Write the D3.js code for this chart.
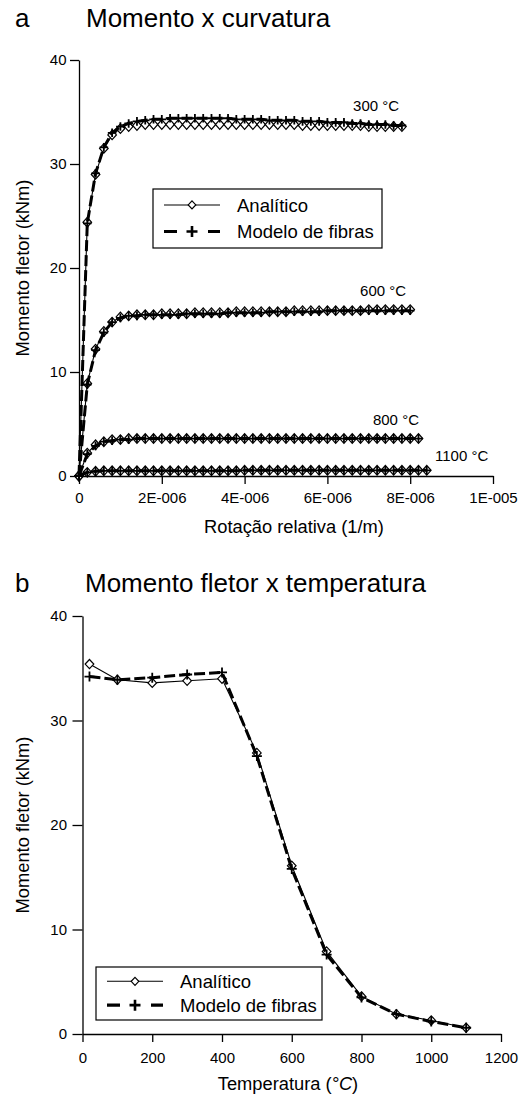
<!DOCTYPE html>
<html><head><meta charset="utf-8">
<script src="https://cdn.jsdelivr.net/npm/d3@7"></script>
<style>
body{margin:0;background:#fff}
svg{display:block}
text{font-family:"Liberation Sans",Arial,Helvetica,sans-serif;fill:#000}
</style>
</head><body>
<svg id="c" width="527" height="1095"></svg>
<script>
// ---------- Chart a: Momento x curvatura (rotation in units of 1E-6 1/m) ----------
const rotation = [0,0.2,0.4,0.6,0.8,1.0,1.2,1.4,1.6,1.8,2.0,2.2,2.4,2.6,2.8,3.0,3.2,3.4,3.6,3.8,4.0,4.2,4.4,4.6,4.8,5.0,5.2,5.4,5.6,5.8,6.0,6.2,6.4,6.6,6.8,7.0,7.2,7.4,7.6,7.8,8.0,8.2,8.4];

const m300Analitico = [0,24.4,29.0,31.5,32.8,33.4,33.6,33.7,33.8,33.8,
  33.8,33.8,33.8,33.8,33.8,33.8,33.8,33.8,33.8,33.8,
  33.8,33.8,33.8,33.8,33.8,33.8,33.8,33.7,33.7,33.7,
  33.7,33.7,33.7,33.7,33.7,33.6,33.6,33.6,33.6,33.6];
const m300Fibras = [0,24.3,29.1,31.6,33.0,33.6,33.9,34.1,34.2,34.3,
  34.3,34.4,34.4,34.4,34.4,34.4,34.4,34.4,34.4,34.3,
  34.3,34.3,34.3,34.2,34.2,34.2,34.2,34.1,34.1,34.1,
  34.0,34.0,34.0,33.9,33.9,33.8,33.8,33.8,33.7,33.7];
const m600Analitico = [0,8.9,12.2,13.9,14.8,15.3,15.4,15.5,15.5,15.5,
  15.6,15.6,15.6,15.6,15.7,15.7,15.7,15.7,15.7,15.8,
  15.8,15.8,15.8,15.8,15.8,15.8,15.9,15.9,15.9,15.9,
  15.9,15.9,15.9,15.9,15.9,16.0,16.0,16.0,16.0,16.0,16.0];
const m600Fibras = [0,8.8,12.1,13.8,14.8,15.2,15.4,15.4,15.5,15.5,
  15.5,15.5,15.5,15.6,15.6,15.6,15.6,15.6,15.7,15.7,
  15.7,15.7,15.7,15.8,15.8,15.8,15.8,15.8,15.8,15.8,
  15.9,15.9,15.9,15.9,15.9,15.9,15.9,15.9,15.9,15.9,15.9];
const m800Analitico = [0,2.2,3.0,3.3,3.5,3.5,3.6,3.6,3.6,3.6,
  3.6,3.6,3.6,3.6,3.6,3.6,3.6,3.6,3.6,3.6,
  3.6,3.6,3.6,3.6,3.6,3.6,3.6,3.6,3.6,3.6,
  3.6,3.6,3.6,3.6,3.6,3.6,3.6,3.6,3.6,3.6,3.6,3.6];
const m800Fibras = [0,2.1,2.9,3.3,3.4,3.5,3.5,3.6,3.6,3.6,
  3.6,3.6,3.6,3.6,3.6,3.6,3.6,3.6,3.6,3.6,
  3.6,3.6,3.6,3.6,3.6,3.6,3.6,3.6,3.6,3.6,
  3.6,3.6,3.6,3.6,3.6,3.6,3.6,3.6,3.6,3.6,3.6,3.6];
const m1100Analitico = [0,0.35,0.45,0.5,0.5,0.5,0.5,0.5,0.5,0.5,
  0.5,0.5,0.5,0.5,0.5,0.5,0.5,0.5,0.5,0.5,
  0.55,0.55,0.55,0.55,0.55,0.55,0.55,0.55,0.55,0.55,
  0.55,0.55,0.55,0.55,0.55,0.55,0.55,0.55,0.55,0.55,0.55,0.55,0.55];
const m1100Fibras = [0,0.35,0.45,0.5,0.5,0.5,0.5,0.5,0.5,0.5,
  0.5,0.5,0.5,0.5,0.5,0.5,0.5,0.5,0.5,0.5,
  0.55,0.55,0.55,0.55,0.55,0.55,0.55,0.55,0.55,0.55,
  0.55,0.55,0.55,0.55,0.55,0.55,0.55,0.55,0.55,0.55,0.55,0.55,0.55];

const tempLabels = ["300 °C","600 °C","800 °C","1100 °C"];
const xTicksA = [0,2,4,6,8,10];
const xTickLabelsA = ["0","2E-006","4E-006","6E-006","8E-006","1E-005"];
const yTicks = [0,10,20,30,40];

// ---------- Chart b: Momento fletor x temperatura ----------
const temperaturas = [20,100,200,300,400,500,600,700,800,900,1000,1100];
const mTempAnalitico = [35.4,33.9,33.6,33.8,34.0,26.9,16.1,7.9,3.6,1.9,1.3,0.6];
const mTempFibras    = [34.2,33.9,34.1,34.4,34.6,26.6,15.8,7.6,3.5,1.9,1.2,0.6];
const xTicksB = [0,200,400,600,800,1000,1200];

const legendLabels = ["Analítico","Modelo de fibras"];

// ---------------------------------------------------------------
const svg = d3.select("#c");
const FONT = '"Liberation Sans",Arial,Helvetica,sans-serif';

function diamondPath(w,h){return `M0,${-h}L${w},0L0,${h}L${-w},0Z`;}
function plusPath(s){return `M${-s},0H${s}M0,${-s}V${s}`;}

function drawSeries(g, xs, ys, x, y, kind, msz){
  const pts = ys.map((v,i)=>[xs[i],v]);
  const line = d3.line().x(d=>x(d[0])).y(d=>y(d[1]));
  if(kind==="A"){
    g.append("path").datum(pts).attr("d",line)
      .attr("fill","none").attr("stroke","#000").attr("stroke-width",1.1);
    g.selectAll(null).data(pts).enter().append("path")
      .attr("transform",d=>`translate(${x(d[0])},${y(d[1])})`)
      .attr("d",diamondPath(msz.w,msz.h))
      .attr("fill","#fff").attr("stroke","#000").attr("stroke-width",1.2);
  } else {
    g.append("path").datum(pts).attr("d",line)
      .attr("fill","none").attr("stroke","#000").attr("stroke-width",3)
      .attr("stroke-dasharray","11,4");
    g.selectAll(null).data(pts).enter().append("path")
      .attr("transform",d=>`translate(${x(d[0])},${y(d[1])})`)
      .attr("d",plusPath(msz.p))
      .attr("fill","none").attr("stroke","#000").attr("stroke-width",1.8);
  }
}

function styleAxis(sel, fs){
  sel.selectAll("path.domain").attr("stroke","#000").attr("stroke-width",1.3);
  sel.selectAll(".tick line").attr("stroke","#000").attr("stroke-width",1.3);
  sel.selectAll(".tick text").attr("font-family",FONT).attr("font-size",fs).attr("fill","#000");
}

function legend(g, x0, y0, w, h){
  g.append("rect").attr("x",x0).attr("y",y0).attr("width",w).attr("height",h)
    .attr("fill","#fff").attr("stroke","#000").attr("stroke-width",1.2);
  const r1 = y0 + h*0.27, r2 = y0 + h*0.72;
  const lx0 = x0+11, lx1 = x0+67, lm = x0+39;
  g.append("line").attr("x1",lx0).attr("x2",lx1).attr("y1",r1).attr("y2",r1)
    .attr("stroke","#000").attr("stroke-width",1.1);
  g.append("path").attr("transform",`translate(${lm},${r1})`).attr("d",diamondPath(3.8,4))
    .attr("fill","#fff").attr("stroke","#000").attr("stroke-width",1.2);
  g.append("line").attr("x1",lx0).attr("x2",lx1).attr("y1",r2).attr("y2",r2)
    .attr("stroke","#000").attr("stroke-width",3.2).attr("stroke-dasharray","13,31");
  g.append("path").attr("transform",`translate(${lm},${r2})`).attr("d",plusPath(5.5))
    .attr("fill","none").attr("stroke","#000").attr("stroke-width",2.6);
  g.append("text").attr("x",x0+84).attr("y",r1).attr("dy","0.36em")
    .attr("font-size",18.5).text(legendLabels[0]);
  g.append("text").attr("x",x0+84).attr("y",r2).attr("dy","0.36em")
    .attr("font-size",18.5).text(legendLabels[1]);
}

// ================= Chart a =================
{
  const g = svg.append("g");
  const x = d3.scaleLinear().domain([0,10]).range([79,493]);
  const y = d3.scaleLinear().domain([0,40]).range([476,60]);

  g.append("text").attr("x",15).attr("y",27).attr("font-size",26).text("a");
  g.append("text").attr("x",86).attr("y",27).attr("font-size",26).text("Momento x curvatura");

  const xa = g.append("g").attr("transform","translate(0,476)")
    .call(d3.axisBottom(x).tickValues(xTicksA).tickFormat((d,i)=>xTickLabelsA[i]).tickSize(8).tickSizeOuter(0).tickPadding(8.5));
  styleAxis(xa,15);
  const ya = g.append("g").attr("transform","translate(79,0)")
    .call(d3.axisLeft(y).tickValues(yTicks).tickFormat(d3.format("d")).tickSize(9).tickSizeOuter(0).tickPadding(3.5));
  styleAxis(ya,15);

  g.append("text").attr("x",294).attr("y",533).attr("text-anchor","middle")
    .attr("font-size",18.3).text("Rotação relativa (1/m)");
  g.append("text").attr("transform","translate(29,268) rotate(-90)").attr("text-anchor","middle")
    .attr("font-size",18.3).text("Momento fletor (kNm)");

  const msz = {w:4.3,h:4.8,p:4.3};
  const sets = [[m1100Analitico,m1100Fibras],[m800Analitico,m800Fibras],[m600Analitico,m600Fibras],[m300Analitico,m300Fibras]];
  sets.forEach(s=>{ drawSeries(g, rotation, s[0], x, y, "A", msz); });
  sets.forEach(s=>{ drawSeries(g, rotation, s[1], x, y, "F", msz); });

  // temperature annotations
  const lab = [[6.62,35.1],[6.79,17.3],[7.1,4.95],[8.6,1.4]];
  tempLabels.forEach((t,i)=>{
    g.append("text").attr("x",x(lab[i][0])).attr("y",y(lab[i][1]))
      .attr("font-size",15).text(t);
  });

  legend(g,153,189,229,59);
}

// ================= Chart b =================
{
  const g = svg.append("g");
  const x = d3.scaleLinear().domain([0,1200]).range([82.5,501]);
  const y = d3.scaleLinear().domain([0,40]).range([1034,616]);

  g.append("text").attr("x",15).attr("y",592).attr("font-size",26).text("b");
  g.append("text").attr("x",85).attr("y",592).attr("font-size",26).text("Momento fletor x temperatura");

  const xa = g.append("g").attr("transform","translate(0,1034)")
    .call(d3.axisBottom(x).tickValues(xTicksB).tickFormat(d3.format("d")).tickSize(8).tickSizeOuter(0).tickPadding(10));
  styleAxis(xa,15);
  const ya = g.append("g").attr("transform","translate(82.5,0)")
    .call(d3.axisLeft(y).tickValues(yTicks).tickFormat(d3.format("d")).tickSize(10).tickSizeOuter(0).tickPadding(5.5));
  styleAxis(ya,15);

  const t = g.append("text").attr("x",288).attr("y",1090).attr("text-anchor","middle").attr("font-size",18.3);
  t.append("tspan").text("Temperatura (");
  t.append("tspan").attr("font-style","italic").text("°C");
  t.append("tspan").text(")");
  g.append("text").attr("transform","translate(29,825) rotate(-90)").attr("text-anchor","middle")
    .attr("font-size",18.3).text("Momento fletor (kNm)");

  const msz = {w:4.3,h:4.6,p:5};
  drawSeries(g, temperaturas, mTempAnalitico, x, y, "A", msz);
  drawSeries(g, temperaturas, mTempFibras, x, y, "F", msz);

  legend(g,96,967,226,53);
}
</script>
</body></html>
